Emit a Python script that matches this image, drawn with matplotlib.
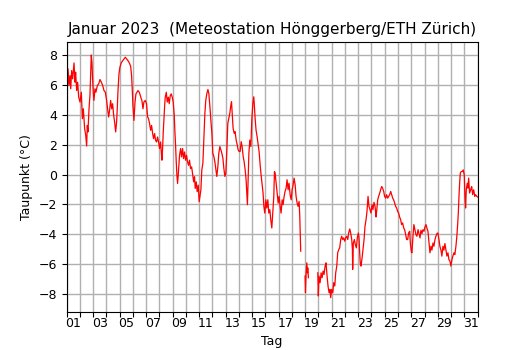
import numpy as np
import matplotlib
matplotlib.use("Agg")
import matplotlib.pyplot as plt

# time in days since 2023-01-01 00:00, dew point in °C (NaN = data gap)
days = [
    0.005, 0.055, 0.106, 0.18, 0.256, 0.31, 0.38, 0.457, 0.557, 0.63, 0.68, 0.76, 0.83, 0.91,
    1.01, 1.11, 1.19, 1.26, 1.36, 1.44, 1.51, 1.56, 1.61, 1.69, 1.76, 1.81, 1.86, 1.91, 1.96,
    2.01, 2.06, 2.14, 2.21, 2.32, 2.42, 2.52, 2.62, 2.72, 2.82, 2.92,
    3.02, 3.09, 3.17, 3.24, 3.32, 3.4, 3.47, 3.55, 3.62, 3.7, 3.77, 3.82, 3.87, 3.95,
    4.02, 4.12, 4.23, 4.33, 4.43, 4.53, 4.63, 4.73, 4.83, 4.9, 4.95,
    5.0, 5.08, 5.16, 5.23, 5.31, 5.38, 5.48, 5.56, 5.63, 5.68, 5.76, 5.83, 5.93,
    6.03, 6.11, 6.18, 6.26, 6.34, 6.41, 6.49, 6.56, 6.64, 6.71, 6.79, 6.86, 6.94,
    7.01, 7.09, 7.14, 7.19, 7.24, 7.29, 7.34, 7.39, 7.44, 7.52, 7.59, 7.67, 7.74, 7.82, 7.89, 7.97,
    8.04, 8.12, 8.17, 8.22, 8.27, 8.32, 8.37, 8.42, 8.47, 8.52, 8.6, 8.67, 8.75, 8.82, 8.9, 8.97,
    9.05, 9.12, 9.2, 9.27, 9.35, 9.43, 9.5, 9.58, 9.65, 9.7, 9.78, 9.85, 9.93,
    10.0, 10.13, 10.2, 10.28, 10.35, 10.43, 10.5, 10.58, 10.66, 10.73, 10.81, 10.88, 10.96,
    11.03, 11.11, 11.18, 11.26, 11.33, 11.41, 11.48, 11.56, 11.64, 11.71, 11.79, 11.86, 11.94,
    12.01, 12.09, 12.16, 12.24, 12.31, 12.39, 12.44, 12.49, 12.56, 12.64, 12.71, 12.79, 12.87, 12.94,
    13.02, 13.09, 13.17, 13.24, 13.32, 13.39, 13.47, 13.54, 13.59, 13.64, 13.69, 13.75, 13.82, 13.9, 13.97,
    14.05, 14.12, 14.17, 14.22, 14.29, 14.37, 14.45, 14.52, 14.6, 14.67, 14.75, 14.82, 14.88, 14.95,
    15.03, 15.1, 15.18, 15.25, 15.33, 15.4, 15.48, 15.55, 15.63, 15.68, 15.73, 15.78, 15.83, 15.88, 15.96,
    16.03, 16.11, 16.18, 16.26, 16.33, 16.41, 16.48, 16.56, 16.63, 16.71, 16.78, 16.86, 16.94,
    17.01, 17.09, 17.16, 17.24, 17.31, 17.39, 17.46, 17.54, 17.59, 17.61, 17.64, 17.66, 17.8,
    17.99, 18.02, 18.07, 18.12, 18.17, 18.19, 18.24, 18.6,
    18.95, 18.99, 19.04, 19.12, 19.2, 19.27, 19.35, 19.42, 19.5, 19.57, 19.65, 19.72, 19.8, 19.87, 19.92,
    20.0, 20.08, 20.15, 20.23, 20.3, 20.38, 20.45, 20.53, 20.6, 20.68, 20.75, 20.83, 20.9, 20.98,
    21.05, 21.13, 21.21, 21.28, 21.36, 21.43, 21.51, 21.56, 21.58, 21.63, 21.71, 21.78, 21.86, 21.93,
    22.01, 22.06, 22.11, 22.16, 22.21, 22.29, 22.36, 22.44, 22.51, 22.59, 22.66, 22.74, 22.81, 22.89, 22.96,
    23.04, 23.11, 23.19, 23.27, 23.34, 23.39, 23.47, 23.54, 23.62, 23.69, 23.77, 23.84, 23.92, 23.99,
    24.07, 24.14, 24.22, 24.3, 24.37, 24.45, 24.52, 24.6, 24.67, 24.75, 24.82, 24.9, 24.97,
    25.05, 25.12, 25.2, 25.27, 25.35, 25.43, 25.5, 25.58, 25.65, 25.73, 25.8, 25.88, 25.93,
    26.0, 26.05, 26.13, 26.2, 26.28, 26.35, 26.43, 26.51, 26.58, 26.66, 26.73, 26.81, 26.88, 26.96,
    27.03, 27.11, 27.18, 27.26, 27.33, 27.41, 27.49, 27.56, 27.64, 27.71, 27.79, 27.86, 27.94,
    28.01, 28.09, 28.16, 28.24, 28.31, 28.39, 28.46, 28.54, 28.62, 28.69, 28.77, 28.84, 28.92, 28.99,
    29.07, 29.14, 29.22, 29.29, 29.37, 29.44, 29.5, 29.55, 29.6, 29.65, 29.7, 29.77, 29.85, 29.92,
    30.0, 30.05, 30.1, 30.15, 30.23, 30.28, 30.33, 30.4, 30.48, 30.56, 30.63, 30.71, 30.79, 30.85, 30.99,
]
dewpoint = [
    6.85, 5.74, 7.07, 5.96, 6.62, 5.74, 6.96, 6.4, 7.47, 6.18, 6.85, 5.62, 6.18, 5.18,
    4.85, 5.51, 3.74, 4.4, 3.07, 2.63, 1.91, 3.29, 2.85, 4.4, 5.29, 6.62, 8.0, 7.5, 6.4,
    5.51, 4.96, 5.74, 5.51, 5.96, 6.07, 6.36, 6.18, 5.96, 5.62, 5.51,
    4.96, 4.4, 3.85, 4.29, 4.96, 4.4, 4.74, 3.96, 3.51, 2.85, 3.51, 4.4, 5.51, 6.74,
    7.18, 7.47, 7.62, 7.74, 7.85, 7.74, 7.62, 7.47, 7.25, 6.62, 5.74,
    4.62, 3.62, 4.85, 5.4, 5.51, 5.62, 5.51, 5.29, 5.07, 4.96, 4.4, 4.85, 4.96,
    4.74, 3.85, 3.74, 3.4, 2.96, 3.29, 2.74, 2.4, 2.74, 2.29, 2.18, 2.51, 2.18,
    1.74, 2.18, 1.51, 0.96, 1.74, 2.85, 3.74, 4.51, 5.18, 5.51, 4.85, 5.18, 4.74, 5.29, 5.4, 5.18,
    4.85, 3.96, 2.85, 1.96, 0.85, -0.04, -0.6, -0.04, 0.62, 1.29, 1.74, 1.18, 1.74, 1.07, 1.51, 0.96,
    1.29, 0.85, 0.62, 0.96, 0.4, 0.51, 0.07, -0.49, -0.15, -0.93, -0.49, -1.15, -0.71,
    -1.82, -1.02, 0.31, 0.76, 2.31, 4.09, 4.98, 5.42, 5.69, 5.42, 4.54, 3.65, 2.76,
    1.42, 1.2, 0.87, 0.31, -0.13, 0.53, 1.42, 1.87, 1.65, 1.42, 1.09, 0.42, -0.13,
    0.09, 1.65, 3.42, 3.76, 4.09, 4.65, 4.87, 4.09, 3.09, 2.76, 2.87, 2.31, 1.98, 1.65,
    1.54, 1.54, 2.2, 1.87, 1.2, 0.87, 0.31, -0.35, -1.24, -2.02, -0.35, 1.42, 2.31, 1.87, 3.65,
    4.76, 5.2, 4.54, 3.76, 2.98, 2.54, 1.98, 1.54, 0.65, -0.02, -0.69, -1.24, -2.13, -2.58,
    -1.69, -2.24, -1.69, -2.58, -2.35, -3.02, -3.58, -2.58, -1.46, 0.2, 0.09, -0.35, -0.8, -1.24, -1.91,
    -1.46, -2.13, -2.58, -1.69, -2.02, -1.46, -1.13, -0.91, -0.35, -1.02, -0.58, -1.35, -1.69,
    -1.02, -0.69, -0.24, -0.69, -1.46, -1.91, -2.13, -1.8, -2.8, -3.46, -4.35, -5.13, np.nan,
    -6.8, -7.91, -6.58, -5.91, -6.58, -6.24, -6.91, np.nan,
    -6.58, -8.13, -6.8, -7.24, -6.58, -6.91, -6.46, -6.69, -6.13, -5.91, -6.8, -7.46, -7.91, -7.69, -8.24,
    -7.69, -7.91, -7.24, -7.46, -6.58, -6.13, -5.24, -5.02, -4.91, -4.35, -4.13, -4.35, -4.24, -4.46,
    -4.24, -4.13, -4.35, -3.91, -3.64, -3.91, -4.35, -5.02, -6.35, -4.58, -4.35, -4.69, -4.91, -4.24,
    -3.91, -4.24, -5.24, -6.02, -6.13, -5.58, -5.02, -4.35, -3.46, -3.02, -2.46, -1.46, -2.13, -2.35, -2.58,
    -2.02, -2.35, -1.86, -2.13, -2.84, -2.46, -1.69, -1.46, -1.24, -1.02, -0.8, -0.91, -1.13, -1.46,
    -1.58, -1.35, -1.58, -1.46, -1.35, -1.13, -1.35, -1.58, -1.69, -1.91, -2.13, -2.24, -2.46,
    -2.58, -2.84, -3.02, -3.35, -3.24, -3.58, -3.69, -4.02, -4.35, -4.35, -3.91, -3.8, -4.58,
    -5.13, -5.24, -4.13, -3.35, -3.69, -4.02, -4.13, -3.69, -3.95, -4.24, -3.73, -3.95, -3.69, -3.8,
    -3.51, -3.35, -3.58, -3.8, -4.46, -5.24, -4.8, -5.06, -4.58, -4.8, -4.35, -4.13, -3.95,
    -3.91, -4.35, -4.8, -5.06, -5.46, -4.8, -5.06, -4.62, -5.06, -5.46, -5.24, -5.69, -5.8, -6.13,
    -5.69, -5.46, -5.24, -5.35, -4.8, -4.13, -3.35, -2.58, -1.46, -0.58, 0.09, 0.2, 0.2, 0.31,
    -0.02, -1.46, -2.24, -1.02, -0.58, -0.91, -0.24, -1.24, -1.02, -0.8, -1.35, -1.02, -1.46, -1.35, -1.5,
]

yticks = [-8, -6, -4, -2, 0, 2, 4, 6, 8]
day_labels = ["01", "03", "05", "07", "09", "11", "13", "15", "17", "19", "21",
              "23", "25", "27", "29", "31"]

fig = plt.figure(figsize=(5.3, 3.5), dpi=100)
ax = fig.add_axes([0.1257, 0.1086, 0.7753, 0.7714])
ax.plot(days, dewpoint, color="red", lw=0.9)

ax.set_xlim(0, 31)
ax.set_ylim(-9.2, 8.87)
ax.set_yticks(yticks)
ax.set_xticks(np.arange(0, 32))
ax.set_xticklabels([])
ax.set_xticks([2 * i + 0.5 for i in range(len(day_labels))], minor=True)
ax.set_xticklabels(day_labels, minor=True)
ax.tick_params(axis="x", which="minor", length=0, labelsize=9)
ax.tick_params(axis="y", labelsize=9)
ax.grid(True, which="major", color="#b0b0b0", lw=1)
ax.set_axisbelow(True)

ax.set_title("Januar 2023  (Meteostation Hönggerberg/ETH Zürich)", fontsize=11)
ax.set_xlabel("Tag", fontsize=9)
ax.set_ylabel("Taupunkt (°C)", fontsize=9)

fig.savefig("out.png", dpi=100)
